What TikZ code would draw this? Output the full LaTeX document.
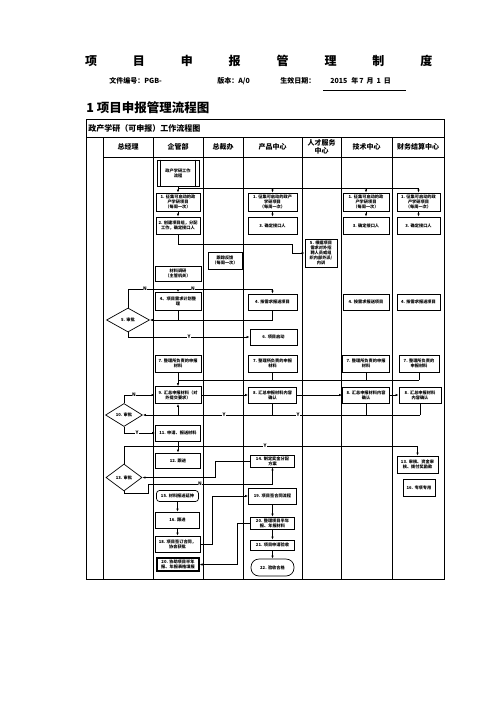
\documentclass[tikz,border=0pt]{standalone}
\usepackage{fontspec}
\setmainfont{Noto Sans CJK SC}
\usetikzlibrary{arrows.meta,shapes.geometric}

\begin{document}
\begin{tikzpicture}[x=1pt,y=-1pt,line width=0.7pt,
    txt/.style={font=\bfseries\fontsize{4.2}{5.2}\selectfont,align=center,inner sep=0pt},
    box/.style={txt,draw,minimum width=#1,minimum height=17},
    box/.default=46,
    dia/.style={txt,draw,diamond,inner sep=0pt},
    hd/.style={font=\bfseries\fontsize{7}{8}\selectfont,align=center,inner sep=0pt},
    lbl/.style={font=\bfseries\fontsize{4.8}{5}\selectfont,fill=white,inner sep=0.4pt},
    arr/.style={-{Latex[length=3pt,width=2.4pt]}}]
    \useasboundingbox (0,0) rectangle (496,702);
    \foreach \c [count=\i from 0] in {项,目,申,报,管,理,制,度}
        \node[font=\bfseries\fontsize{12}{12}\selectfont] (ttl\i) at (91+47.9*\i,61) {\c};
    \node[hd,anchor=west] (doc) at (109,81) {文件编号：PGB-};
    \node[hd,anchor=west] (ver) at (217,81) {版本：A/0};
    \node[hd,anchor=west] (eff) at (280,81) {生效日期：};
    \node[hd,anchor=west] (date) at (330,81) {2015\hspace{4pt}年\hspace{1pt}7\hspace{3pt}月\hspace{3pt}1\hspace{3pt}日};
    \draw[line width=0.6pt] (323,90) -- (406,90);
    \node[anchor=west,font=\bfseries\fontsize{12.5}{13}\selectfont,inner sep=0pt] (head) at (86,108) {1 项目申报管理流程图};

    \draw[line width=0.8pt] (86,119) rectangle (444,579) (86,137) -- (444,137) (103,157) -- (444,157);
    \foreach \x in {103,153,203,243,302,341,392} \draw[line width=0.8pt] (\x,137) -- (\x,579);
    \node[anchor=west,font=\bfseries\fontsize{8}{9}\selectfont,inner sep=0pt] (flow) at (88,128) {政产学研（可申报）工作流程图};
    \node[hd] (h1) at (128,147) {总经理};
    \node[hd] (h2) at (178,147) {企管部};
    \node[hd] (h3) at (223,147) {总裁办};
    \node[hd] (h4) at (272.5,147) {产品中心};
    \node[hd] (h5) at (321.5,147) {人才服务\\中心};
    \node[hd] (h6) at (366.5,147) {技术中心};
    \node[hd] (h7) at (418,147) {财务结算中心};

    \node[box=42,minimum height=26] (q0) at (178,173) {政产学研工作\\流程};
    \draw ([xshift=4pt]q0.north west) -- ([xshift=4pt]q0.south west) ([xshift=-4pt]q0.north east) -- ([xshift=-4pt]q0.south east);
    \node[box=44,minimum height=18] (q1) at (178,202) {1. 征集可启动的政\\产学研项目\\（每周一次）};
    \node[box=44] (q2) at (178,225.5) {2. 创建项目组，分配\\工作，确定接口人};
    \node[box=46,minimum height=15] (qm) at (178,273.5) {材料调研\\（主管机关）};
    \node[box=46,minimum height=18] (q4) at (178,301.5) {4、项目需求计划整\\理};
    \node[box=46] (q7) at (178,363.5) {7. 整理所负责的申报\\材料};
    \node[box=46] (q9) at (178,395) {9. 汇总申报材料（对\\外提交要求）};
    \node[box=45,minimum height=16] (q11) at (178,433) {11. 申请、报送材料};
    \node[box=45,minimum height=15] (q12) at (178,460.5) {12. 跟进};
    \node[box=42,minimum height=11,rounded corners=3pt] (q15) at (177.5,496) {15. 材料报送延伸};
    \node[box=44,minimum height=16] (q16) at (177.5,520) {16. 跟进};
    \node[box=45,minimum height=16] (q18) at (177.5,544) {18. 项目签订合同，\\协会获批};
    \node[box=42,minimum height=13,line width=1.2pt] (q20) at (178,564.5) {20. 协助项目半年\\报、年报表格填报};

    \node[box=34] (z0) at (225,260.5) {跟踪反馈\\（每周一次）};

    \node[box=49,minimum height=18] (p1) at (272.5,202) {1. 征集可启动的政产\\学研项目\\（每周一次）};
    \node[box=49] (p3) at (272.5,225.5) {3. 确定接口人};
    \node[box=49,minimum height=16] (p4) at (272.5,302) {4. 按需求报送项目};
    \node[box=47,minimum height=16] (p6) at (273.5,337) {6. 项目启动};
    \node[box=49] (p7) at (272.5,363.5) {7. 整理所负责的申报\\材料};
    \node[box=48,minimum height=16] (p8) at (272.5,395) {8. 汇总申报材料内容\\确认};
    \node[box=44,minimum height=12] (p14) at (272.5,461) {14. 制定奖金分配\\方案};
    \node[box=48,minimum height=16] (p19) at (272.5,496) {19. 项目签合同流程};
    \node[box=44,minimum height=12] (p20) at (272.5,523) {20. 整理项目半年\\报、年报材料};
    \node[box=44,minimum height=10] (p21) at (272.5,545) {21. 项目申请验收};
    \node[box=43,minimum height=17,rounded corners=8pt] (p22) at (272.5,567.5) {22. 验收合格};

    \node[box=32,minimum height=28] (r5) at (321,253) {5. 根据项目\\需求对外招\\聘人员或组\\织内部外派/\\内训};

    \node[box=46,minimum height=18] (t1) at (366,202) {1. 征集可启动的政\\产学研项目\\（每周一次）};
    \node[box=46] (t3) at (366,225.5) {3. 确定接口人};
    \node[box=46,minimum height=16] (t4) at (366,302) {4. 按需求报送项目};
    \node[box=47] (t7) at (366,363.5) {7. 整理所负责的申报\\材料};
    \node[box=47,minimum height=16] (t8) at (366,395) {8. 汇总申报材料内容\\确认};

    \node[box=43,minimum height=18] (f1) at (418.5,202) {1. 征集可启动的政\\产学研项目\\（每周一次）};
    \node[box=43] (f3) at (418.5,225.5) {3. 确定接口人};
    \node[box=43,minimum height=16] (f4) at (418.5,302) {4. 按需求报送项目};
    \node[box=40] (f7) at (419,363.5) {7. 整理所负责的\\申报材料};
    \node[box=42,minimum height=16] (f8) at (420,395) {8. 汇总申报材料\\内容确认};
    \node[box=41] (f13) at (417.5,464.5) {13. 审核、资金审\\核、拨付奖励款};
    \node[box=32] (f16) at (419,487.5) {16. 专项专用};

    \node[dia,minimum width=43,minimum height=24] (d5) at (128,320) {5. 审批};
    \node[dia,minimum width=37,minimum height=23] (d10) at (124,415) {10. 审批};
    \node[dia,minimum width=36,minimum height=27] (d13) at (124,477.5) {13. 审批};

    \coordinate (tp) at (178,188);
    \draw (tp) -- (tp -| f1);
    \draw[arr] (q0) -- (q1);
    \foreach \n in {p1,t1,f1} \draw[arr] (tp -| \n) -- (\n);
    \foreach \a/\b in {q1/q2,p1/p3,t1/t3,f1/f3} \draw[arr] (\a) -- (\b);
    \draw[arr] (q2) |- (292,244) |- (r5);

    \coordinate (nl) at (272.5,289);
    \draw (d5) |- (nl);
    \draw[arr] (nl) -- (p4);
    \draw[arr] (q4 |- nl) -- (q4);
    \draw[arr] (p4) |- (d5);
    \draw (q4) -- (q4 |- d5);
    \draw[arr] (d5) |- (p6);

    \coordinate (m7) at (178,380);
    \draw (m7) -- (m7 -| f7);
    \foreach \n in {p7,t7,f7} \draw (\n) -- (\n |- m7);
    \draw[arr] (q7) -- (q9);
    \draw[arr] (q9) -- (p8);
    \draw[arr] (p8) -- (t8);
    \draw[arr] (t8) -- (f8);

    \coordinate (m8) at (178,415);
    \draw[arr] (f8 |- m8) -- (d10);
    \foreach \n in {p8,t8,f8} \draw (\n) -- (\n |- m8);
    \draw[arr] (m8) -- (q9);
    \draw[arr] (d10) |- (q9);
    \draw[arr] (d10) |- (q11);
    \draw[arr] (q11) -- (q12);

    \coordinate (y13) at (417.5,446);
    \draw (d13) |- (y13);
    \draw[arr] (y13) -- (f13);
    \draw[arr] (p14) -- (215,461) |- (d13);
    \coordinate (n13) at (148,484);
    \draw[arr] (d13) |- (148,493) -- (n13) -| (p14);

    \draw[arr] (q15) -- (q16);
    \draw[arr] (q16) -- (q18);
    \draw[arr] (q18) -- (212,544) |- (p19);
    \draw[arr] (p19) -- (p20);
    \draw[arr] (p20) -- (p21);
    \draw[arr] (p21) -- (p22);
    \draw[arr] (p20) -- (237,523) |- (q20);

    \node[lbl] (ln1) at (145,289) {N};
    \node[lbl] (ln2) at (193,289) {N};
    \node[lbl] (ly1) at (189,337) {Y};
    \node[lbl] (ly2) at (224,415) {Y};
    \node[lbl] (ly3) at (298,415) {Y};
    \node[lbl] (ln3) at (134,395) {N};
    \node[lbl] (ly4) at (137,433) {Y};
    \node[lbl] (ly5) at (265,446) {Y};
    \node[lbl] (ln4) at (200,484) {N};
\end{tikzpicture}
\end{document}
